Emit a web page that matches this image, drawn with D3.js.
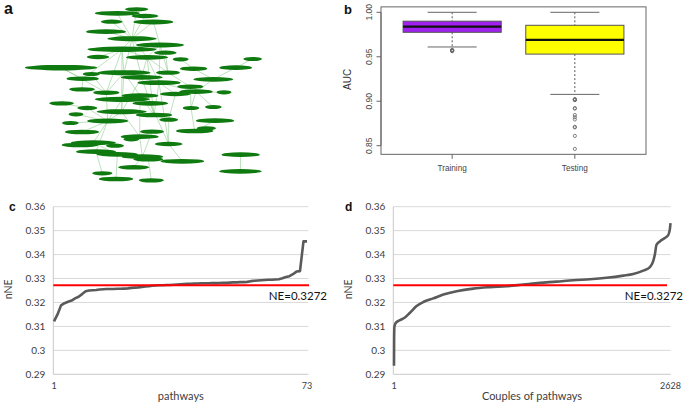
<!DOCTYPE html>
<html>
<head>
<meta charset="utf-8">
<script src="https://cdn.jsdelivr.net/npm/d3@7"></script>
<style>
  body { margin: 0; background: #fff; }
  svg { display: block; }
</style>
</head>
<body>
<svg width="685" height="404"></svg>
<script>
// ---- panel a: network layout (layout units) ----
const netX = [410,352,435,335,460,318,396,480,366,496,294,441,542,758,183,581,707,372,504,274,425,248,640,477,246,571,319,588,526,672,420,367,185,451,262,573,640,365,228,462,506,323,645,211,246,456,584,619,419,394,280,240,506,345,288,352,427,445,547,722,401,721,307,348,454];
const netY = [28,40,48,65,66,95,116,135,148,158,171,172,178,177,203,206,203,218,218,222,232,236,238,248,268,260,278,275,282,277,287,298,310,310,324,324,321,335,343,345,359,363,362,369,396,395,393,385,410,418,428,435,432,437,455,463,470,478,484,464,502,514,520,537,541];
const netW = [70,135,80,65,120,120,148,144,208,68,68,127,48,56,217,82,98,159,72,52,126,97,120,130,77,78,78,100,92,45,110,165,74,107,60,50,50,150,45,109,57,123,115,50,102,72,112,58,114,48,135,110,83,54,120,125,125,90,131,115,93,128,61,103,75];
const netEdges = [[7,1],[7,2],[7,3],[7,4],[7,5],[7,6],[7,9],[7,12],[7,18],[7,21],[9,11],[9,12],[9,18],[9,22],[9,27],[12,19],[12,21],[12,24],[8,12],[8,19],[15,22],[15,27],[18,27],[18,32],[18,31],[21,24],[21,34],[24,29],[24,28],[19,26],[16,23],[17,14],[17,23],[23,28],[28,30],[26,36],[28,36],[36,47],[37,28],[27,42],[32,38],[31,40],[34,40],[38,42],[42,45],[42,51],[22,25],[25,27],[35,42],[39,42],[44,42],[33,35],[40,41],[41,53],[38,49],[49,50],[49,57],[46,57],[53,59],[42,55],[51,56],[56,57],[57,61],[55,63],[56,64],[58,65],[60,62],[43,47],[29,41],[24,40],[31,49],[32,42],[21,38],[9,38],[12,40],[24,53],[34,53],[20,27],[10,19],[13,16],[8,24],[5,8]];

// ---- panel b: AUC boxplots ----
const boxGroups = ["Training", "Testing"];
const boxFill = ["#a020f0", "#ffff00"];
const boxLow = [0.961, 0.9077];
const boxQ1 = [0.9775, 0.953];
const boxMed = [0.984, 0.969];
const boxQ3 = [0.990, 0.9854];
const boxHigh = [1.0, 1.0];
const trainOutliers = [0.9563, 0.9567, 0.957, 0.9574, 0.9578];
const testOutliers = [0.9024, 0.9020, 0.9016, 0.9012, 0.8922, 0.8918, 0.8845, 0.882, 0.8795, 0.8712, 0.8706, 0.861, 0.8464];
const aucTicks = [0.85, 0.90, 0.95, 1.00];

// ---- panels c, d: nNE curves ----
const nneTicks = [0.29, 0.30, 0.31, 0.32, 0.33, 0.34, 0.35, 0.36];
const NE = 0.3272;
const pathwayNNE = [0.3121,0.3150,0.3188,0.3197,0.3203,0.3208,0.3217,0.3224,0.3235,0.3247,0.3250,0.3251,0.3252,0.3254,0.3255,0.3256,0.3256,0.3256,0.3257,0.3257,0.3258,0.3259,0.3261,0.3262,0.3263,0.3265,0.3267,0.3268,0.3270,0.3271,0.3272,0.3272,0.3273,0.3273,0.3274,0.3275,0.3276,0.3277,0.3278,0.3278,0.3279,0.3279,0.3280,0.3280,0.3280,0.3281,0.3281,0.3281,0.3282,0.3282,0.3283,0.3284,0.3284,0.3285,0.3285,0.3286,0.3289,0.3291,0.3292,0.3293,0.3294,0.3295,0.3295,0.3296,0.3297,0.3301,0.3306,0.3310,0.3318,0.3329,0.3331,0.3455,0.3455];
const coupleIdx = [1,2,5,20,58,105,153,216,280,374,470,596,754,913,1071,1229,1387,1545,1704,1862,2020,2179,2274,2369,2432,2463,2479,2495,2527,2574,2605,2621,2628];
const coupleNNE = [0.2936,0.3047,0.3100,0.3116,0.3126,0.3137,0.3157,0.3185,0.3202,0.3217,0.3233,0.3247,0.3258,0.3264,0.3268,0.3275,0.3282,0.3287,0.3293,0.3297,0.3303,0.3312,0.3319,0.3333,0.3348,0.3372,0.3399,0.3441,0.3455,0.3469,0.3480,0.3503,0.3531];

const svg = d3.select('svg');
const EXCEL_FONT = 'Lato, "Open Sans", sans-serif';
const R_FONT = '"Liberation Sans", Arial, sans-serif';

function panelLabel(txt, x, y, size) {
    svg.append('text')
        .attr('x', x).attr('y', y)
        .attr('font-family', R_FONT)
        .attr('font-weight', 'bold')
        .attr('font-size', size)
        .attr('fill', '#111')
        .text(txt);
}

/* ===== a: network ===== */
var xA = d3.scaleLinear().domain([0, 900]).range([0, 300]);
var yA = d3.scaleLinear().domain([0, 570]).range([0, 190]);
var gA = svg.append('g');

gA.selectAll('line')
    .data(netEdges)
    .join('line')
    .attr('x1', d => xA(netX[d[0] - 1]))
    .attr('y1', d => yA(netY[d[0] - 1]))
    .attr('x2', d => xA(netX[d[1] - 1]))
    .attr('y2', d => yA(netY[d[1] - 1]))
    .attr('stroke', '#8fcc8f')
    .attr('stroke-opacity', 0.85)
    .attr('stroke-width', 0.7);

gA.selectAll('ellipse')
    .data(netX)
    .join('ellipse')
    .attr('cx', (d) => xA(d))
    .attr('cy', (d, i) => yA(netY[i]))
    .attr('rx', (d, i) => xA(netW[i]) / 2)
    .attr('ry', (d, i) => 1.9 + netW[i] / 250)
    .attr('fill', '#0f7a0f');

panelLabel('a', 4, 14, 16);

/* ===== b: boxplot ===== */
var xB = d3.scaleLinear().domain([0.42, 2.58]).range([381, 646]);
var yB = d3.scaleLinear().domain([0.85, 1.0]).range([145.7, 12.3]);
var gB = svg.append('g');
var boxW = 0.8, capW = 0.4;

gB.append('rect')
    .attr('x', xB(0.42)).attr('y', yB(1.0061))
    .attr('width', xB(2.58) - xB(0.42))
    .attr('height', yB(0.8403) - yB(1.0061))
    .attr('fill', 'none')
    .attr('stroke', '#666')
    .attr('stroke-width', 1);

// y axis
gB.append('line')
    .attr('x1', xB(0.42)).attr('x2', xB(0.42))
    .attr('y1', yB(0.85)).attr('y2', yB(1.0))
    .attr('stroke', '#666');
aucTicks.forEach(t => {
    gB.append('line')
        .attr('x1', xB(0.42) - 4.5).attr('x2', xB(0.42))
        .attr('y1', yB(t)).attr('y2', yB(t))
        .attr('stroke', '#666');
    gB.append('text')
        .attr('transform', 'translate(371.5,' + yB(t) + ') rotate(-90)')
        .attr('text-anchor', 'middle')
        .attr('font-family', R_FONT)
        .attr('font-size', 8.5)
        .attr('fill', '#444')
        .text(t.toFixed(2));
});
gB.append('text')
    .attr('transform', 'translate(350.5,' + yB(0.9245) + ') rotate(-90)')
    .attr('text-anchor', 'middle')
    .attr('font-family', R_FONT)
    .attr('font-size', 10)
    .attr('fill', '#333')
    .text('AUC');

boxGroups.forEach((name, i) => {
    var c = i + 1;
    // whiskers
    gB.append('line')
        .attr('x1', xB(c)).attr('x2', xB(c))
        .attr('y1', yB(boxHigh[i])).attr('y2', yB(boxQ3[i]))
        .attr('stroke', '#555').attr('stroke-dasharray', '2,2');
    gB.append('line')
        .attr('x1', xB(c)).attr('x2', xB(c))
        .attr('y1', yB(boxQ1[i])).attr('y2', yB(boxLow[i]))
        .attr('stroke', '#555').attr('stroke-dasharray', '2,2');
    [boxHigh[i], boxLow[i]].forEach(v => {
        gB.append('line')
            .attr('x1', xB(c - capW / 2)).attr('x2', xB(c + capW / 2))
            .attr('y1', yB(v)).attr('y2', yB(v))
            .attr('stroke', '#666');
    });
    gB.append('rect')
        .attr('x', xB(c - boxW / 2))
        .attr('y', yB(boxQ3[i]))
        .attr('width', xB(c + boxW / 2) - xB(c - boxW / 2))
        .attr('height', yB(boxQ1[i]) - yB(boxQ3[i]))
        .attr('fill', boxFill[i])
        .attr('stroke', '#555');
    gB.append('line')
        .attr('x1', xB(c - boxW / 2)).attr('x2', xB(c + boxW / 2))
        .attr('y1', yB(boxMed[i])).attr('y2', yB(boxMed[i]))
        .attr('stroke', '#111').attr('stroke-width', 2.2);
    // x tick + label
    gB.append('line')
        .attr('x1', xB(c)).attr('x2', xB(c))
        .attr('y1', yB(0.8403)).attr('y2', yB(0.8403) + 4.5)
        .attr('stroke', '#666');
    gB.append('text')
        .attr('x', xB(c)).attr('y', 170.5)
        .attr('text-anchor', 'middle')
        .attr('font-family', R_FONT)
        .attr('font-size', 8.2)
        .attr('fill', '#444')
        .text(name);
});

[trainOutliers, testOutliers].forEach((arr, i) => {
    gB.selectAll(null)
        .data(arr)
        .join('circle')
        .attr('cx', xB(i + 1))
        .attr('cy', d => yB(d))
        .attr('r', 1.6)
        .attr('fill', 'none')
        .attr('stroke', '#666')
        .attr('stroke-width', 0.8);
});

panelLabel('b', 344, 13.5, 13);

/* ===== c & d: nNE line charts ===== */
function nnePanel(opts) {
    var g = svg.append('g');
    var y = d3.scaleLinear().domain([0.29, 0.36]).range([374.3, 206.7]);
    var x = opts.x;
    var [x0, x1] = opts.plot;

    nneTicks.forEach(t => {
        g.append('line')
            .attr('x1', x0).attr('x2', x1)
            .attr('y1', y(t)).attr('y2', y(t))
            .attr('stroke', t === 0.29 ? '#c8c8c8' : '#d9d9d9')
            .attr('stroke-width', 1);
        g.append('text')
            .attr('x', x0 - 8).attr('y', y(t) + 3.5)
            .attr('text-anchor', 'end')
            .attr('font-family', EXCEL_FONT)
            .attr('font-size', 10)
            .attr('fill', '#404040')
            .text(d3.format('~g')(t));
    });
    g.append('line')
        .attr('x1', x0).attr('x2', x0)
        .attr('y1', y(0.36)).attr('y2', y(0.29))
        .attr('stroke', '#c8c8c8');

    g.append('path')
        .datum(opts.data)
        .attr('fill', 'none')
        .attr('stroke', '#5a5a5a')
        .attr('stroke-width', 2.6)
        .attr('stroke-linejoin', 'round')
        .attr('d', d3.line()
            .curve(opts.curve)
            .x(d => x(d[0]))
            .y(d => y(d[1])));

    g.append('line')
        .attr('x1', x0).attr('x2', opts.redEnd)
        .attr('y1', y(NE)).attr('y2', y(NE))
        .attr('stroke', '#ff0000')
        .attr('stroke-width', 1.8);
    g.append('text')
        .attr('x', opts.neEnd).attr('y', 300)
        .attr('text-anchor', 'end')
        .attr('font-family', EXCEL_FONT)
        .attr('font-size', 11.5)
        .attr('fill', '#111')
        .text('NE=' + NE);

    opts.xLabels.forEach(v => {
        g.append('text')
            .attr('x', x(v)).attr('y', 389)
            .attr('text-anchor', 'middle')
            .attr('font-family', EXCEL_FONT)
            .attr('font-size', 9)
            .attr('fill', '#404040')
            .text(v);
    });
    g.append('text')
        .attr('x', (x0 + x1) / 2).attr('y', 400)
        .attr('text-anchor', 'middle')
        .attr('font-family', EXCEL_FONT)
        .attr('font-size', 11)
        .attr('fill', '#404040')
        .text(opts.title);
    g.append('text')
        .attr('transform', 'translate(' + opts.yLabelX + ',' + y(0.3255) + ') rotate(-90)')
        .attr('text-anchor', 'middle')
        .attr('font-family', EXCEL_FONT)
        .attr('font-size', 10.5)
        .attr('fill', '#404040')
        .text('nNE');
}

nnePanel({
    x: d3.scaleLinear().domain([1, 73]).range([54, 307]),
    plot: [53.3, 308.3],
    data: pathwayNNE.map((v, i) => [i + 1, v]),
    curve: d3.curveLinear,
    redEnd: 309,
    neEnd: 327,
    xLabels: [1, 73],
    title: 'pathways',
    yLabelX: 12
});
nnePanel({
    x: d3.scaleLinear().domain([1, 2628]).range([394, 670.5]),
    plot: [393.3, 670.7],
    data: coupleIdx.map((v, i) => [v, coupleNNE[i]]),
    curve: d3.curveMonotoneX,
    redEnd: 667,
    neEnd: 683,
    xLabels: [1, 2628],
    title: 'Couples of pathways',
    yLabelX: 352
});

panelLabel('c', 9, 211, 12);
panelLabel('d', 345, 211, 12);
</script>
</body>
</html>
